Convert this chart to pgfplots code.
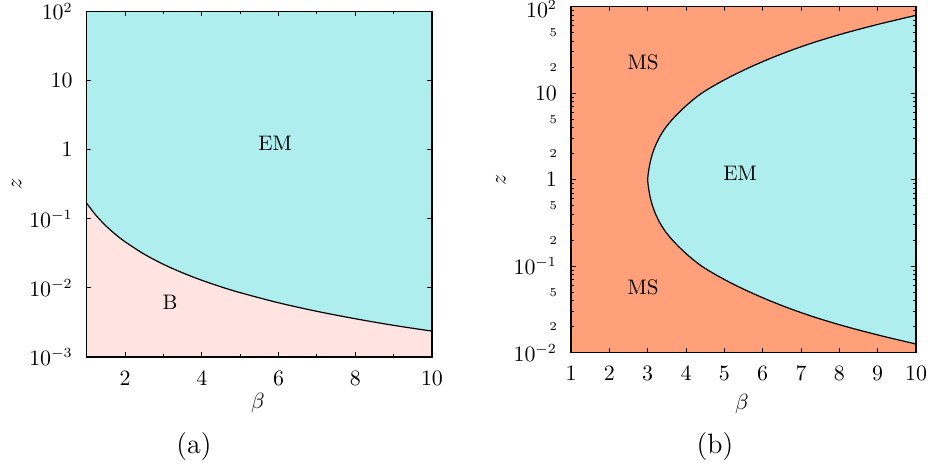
\documentclass[border=0pt]{standalone}
\usepackage{pgfplots}
\pgfplotsset{compat=1.18}
\definecolor{emcol}{RGB}{175,238,238}
\definecolor{bcol}{RGB}{255,228,225}
\definecolor{mscol}{RGB}{255,160,122}
\pgfplotsset{
  mycommon/.style={
    scale only axis, anchor=south west, xmin=1, xmax=10,
    axis on top, axis line style={line width=0.6pt},
    tick style={line width=0.5pt, black},
    major tick length=2.4pt, minor tick length=1.5pt,
    tick label style={font=\fontsize{10.5}{12}\selectfont},
    y tick label style={xshift=-3.5pt},
    x tick label style={yshift=-3.5pt},
    label style={font=\fontsize{11}{13}\selectfont},
  }
}
\pgfplotstableread{
b z
1 0.1675
1.25 0.1108
1.5 0.0791
1.75 0.0595
2 0.0465
2.5 0.03075
3 0.02194
3.5 0.01650
4 0.01289
4.5 0.01036
5 0.00853
6 0.00609
7 0.00458
8 0.00358
9 0.00287
10 0.00237
}\curveA
\pgfplotstableread{
b z
10 79.43
9.05 63.10
8.19 50.12
7.43 39.81
6.77 31.62
6.19 25.12
5.67 19.95
5.20 15.85
4.78 12.59
4.41 10.0
4.12 7.943
3.87 6.310
3.65 5.012
3.465 3.981
3.32 3.162
3.21 2.512
3.125 1.995
3.065 1.585
3.025 1.259
3.0 1.0
3.025 0.7943
3.065 0.6310
3.125 0.5012
3.21 0.3981
3.32 0.3162
3.465 0.2512
3.65 0.1995
3.87 0.1585
4.12 0.1259
4.41 0.1
4.78 0.07943
5.20 0.06310
5.67 0.05012
6.19 0.03981
6.77 0.03162
7.43 0.02512
8.19 0.01995
9.05 0.01585
10 0.01259
}\curveB
\begin{document}
\begin{tikzpicture}
\path[use as bounding box] (0,0) rectangle (464pt,237pt);
% ---------------- (a)
\begin{axis}[ymode=log, mycommon, at={(43.35pt,58.5pt)}, width=172.65pt, height=172.75pt,
  ymin=1e-3, ymax=100,
  xtick={2,4,6,8,10}, minor xtick={3,5,7,9},
  ytick={1e-3,1e-2,1e-1,1,10,100},
  yticklabels={$10^{-3}$,$10^{-2}$,$10^{-1}$,$1$,$10$,$10^{2}$},
  yminorticks=false,
  axis background/.style={fill=emcol},
  xlabel={$\beta$}, ylabel={$z$},
  xlabel style={at={(axis description cs:0.496,-0.133)}, anchor=center},
  ylabel style={at={(axis description cs:-0.203,0.5)}, anchor=center},
]
\addplot[draw=none, fill=bcol, smooth] table[x=b,y=z] {\curveA}
  -- (axis cs:10,0.001) -- (axis cs:1,0.001) -- cycle;
\addplot[black, line width=0.6pt, smooth] table[x=b,y=z] {\curveA};
\node[font=\fontsize{10.5}{12}\selectfont] at (axis cs:5.91,1.25) {EM};
\node[font=\fontsize{10.5}{12}\selectfont] at (axis cs:3.17,0.00625) {B};
\end{axis}
% ---------------- (b)
\begin{axis}[ymode=log, mycommon, at={(285.5pt,60.65pt)}, width=172.5pt, height=173pt,
  ymin=1e-2, ymax=100,
  xtick={1,2,3,4,5,6,7,8,9,10},
  ytick={1e-2,1e-1,1,10,100},
  yticklabels={$10^{-2}$,$10^{-1}$,$1$,$10$,\raisebox{-5.3pt}[0pt][0pt]{$10^{2}$}},
  extra y ticks={0.02,0.05,0.2,0.5,2,5,20,50},
  extra y tick labels={$2$,$5$,$2$,$5$,$2$,$5$,$2$,$5$},
  extra y tick style={major tick length=1.5pt, tick label style={font=\fontsize{6.5}{7}\selectfont}},
  axis background/.style={fill=mscol},
  xlabel={$\beta$}, ylabel={$z$},
  xlabel style={at={(axis description cs:0.495,-0.148)}, anchor=center},
  ylabel style={at={(axis description cs:-0.203,0.5)}, anchor=center},
]
\addplot[draw=none, fill=emcol, smooth] table[x=b,y=z] {\curveB} -- cycle;
\addplot[black, line width=0.6pt, smooth] table[x=b,y=z] {\curveB};
\node[font=\fontsize{10.5}{12}\selectfont] at (axis cs:2.88,23) {MS};
\node[font=\fontsize{10.5}{12}\selectfont] at (axis cs:2.88,0.0575) {MS};
\node[font=\fontsize{10.5}{12}\selectfont] at (axis cs:5.41,1.19) {EM};
\end{axis}
\node[font=\fontsize{14}{16}\selectfont] at (97pt,13.5pt) {(a)};
\node[font=\fontsize{14}{16}\selectfont] at (357.5pt,13.5pt) {(b)};
\end{tikzpicture}
\end{document}
